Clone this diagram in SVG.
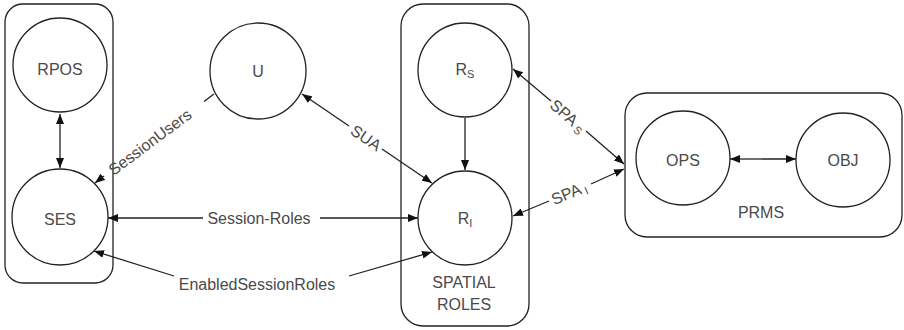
<svg xmlns="http://www.w3.org/2000/svg" width="904" height="330" viewBox="0 0 904 330">
<style>
.box{fill:none;stroke:#222;stroke-width:1.3}
.node{fill:#fff;stroke:#222;stroke-width:1.3}
.lbl{font-family:"Liberation Sans",Arial,sans-serif;font-size:16px;fill:#4a4a4a;text-anchor:middle}
.sub{font-size:11px}
.edge{fill:none;stroke:#222;stroke-width:1.3;marker-end:url(#ah)}
.plain{fill:none;stroke:#222;stroke-width:1.3}
</style>
<defs>
<marker id="ah" viewBox="0 0 10 8" refX="10" refY="4" markerWidth="10" markerHeight="8" markerUnits="userSpaceOnUse" orient="auto">
<path d="M0,0 L10,4 L0,8 z" fill="#111"/>
</marker>
</defs>
<rect id="session-box" class="box" x="5" y="4" width="108" height="279" rx="18"/>
<g id="spatial-roles-box">
<rect class="box" x="401" y="4" width="128" height="322" rx="22"/>
<text class="lbl" x="464" y="288">SPATIAL</text>
<text class="lbl" x="464" y="310">ROLES</text>
</g>
<g id="prms-box">
<rect class="box" x="625" y="93" width="277" height="144" rx="22"/>
<text class="lbl" x="761" y="218">PRMS</text>
</g>
<g id="connectors">
<path class="edge" d="M60,141 L60,114"/>
<path class="edge" d="M60,141 L60,168"/>
<path class="plain" d="M214,94 L204,101.5"/>
<path class="edge" d="M104,176 L95,183"/>
<text class="lbl" transform="translate(150,142) rotate(-36.8)" y="5.5">SessionUsers</text>
<path class="edge" d="M349,126 L302,94"/>
<path class="edge" d="M382,149 L432,183"/>
<text class="lbl" transform="translate(366,138) rotate(34.4)" y="5.5">SUA</text>
<path class="edge" d="M203,218 L108,218"/>
<path class="edge" d="M320,218 L418,218"/>
<text class="lbl" x="259" y="224">Session-Roles</text>
<path class="edge" d="M174,276 L94,251"/>
<path class="edge" d="M349,276 L432,252"/>
<text class="lbl" x="257" y="290">EnabledSessionRoles</text>
<path class="edge" d="M465,118 L465,170"/>
<path class="edge" d="M551,101 L513,69"/>
<path class="edge" d="M586,131 L624,164"/>
<text class="lbl" transform="translate(568,116) rotate(40.6)" y="5.5">SPA<tspan class="sub" dx="3" dy="3">S</tspan></text>
<path class="edge" d="M549,201 L513,216"/>
<path class="edge" d="M591,184 L624,169"/>
<text class="lbl" transform="translate(569,193) rotate(-23)" y="5.5">SPA<tspan class="sub" dx="3" dy="3">I</tspan></text>
<path class="edge" d="M762,159 L730,159"/>
<path class="edge" d="M762,159 L796,159"/>
</g>
<g id="RPOS"><circle class="node" cx="60" cy="65" r="47"/><text class="lbl" x="60" y="75">RPOS</text></g>
<g id="SES"><circle class="node" cx="60" cy="217" r="48"/><text class="lbl" x="60" y="225">SES</text></g>
<g id="U"><circle class="node" cx="258" cy="71" r="48"/><text class="lbl" x="258" y="77">U</text></g>
<g id="RS"><circle class="node" cx="465" cy="70" r="47"/><text class="lbl" x="465" y="75">R<tspan class="sub" dy="3">S</tspan></text></g>
<g id="RI"><circle class="node" cx="465" cy="218" r="47"/><text class="lbl" x="465" y="224">R<tspan class="sub" dy="3">I</tspan></text></g>
<g id="OPS"><circle class="node" cx="683" cy="158" r="47"/><text class="lbl" x="683" y="166">OPS</text></g>
<g id="OBJ"><circle class="node" cx="843" cy="160" r="47"/><text class="lbl" x="843" y="166">OBJ</text></g>
</svg>
